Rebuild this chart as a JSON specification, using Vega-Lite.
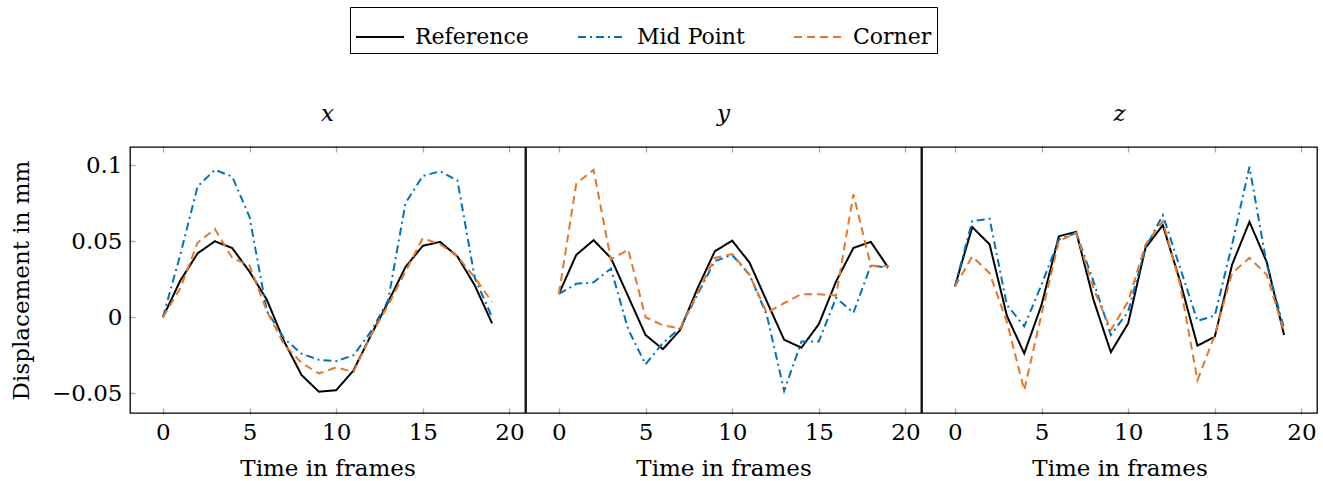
{
  "$schema": "https://vega.github.io/schema/vega-lite/v6.json",
  "padding": {"left": 10, "top": 6, "right": 5, "bottom": 5},
  "datasets": {
    "d": [
      {"c":"x","s":"Reference","f":0,"v":0},{"c":"x","s":"Reference","f":1,"v":0.024},{"c":"x","s":"Reference","f":2,"v":0.042},{"c":"x","s":"Reference","f":3,"v":0.05},{"c":"x","s":"Reference","f":4,"v":0.0455},{"c":"x","s":"Reference","f":5,"v":0.03},{"c":"x","s":"Reference","f":6,"v":0.0115},{"c":"x","s":"Reference","f":7,"v":-0.016},{"c":"x","s":"Reference","f":8,"v":-0.038},{"c":"x","s":"Reference","f":9,"v":-0.049},{"c":"x","s":"Reference","f":10,"v":-0.048},{"c":"x","s":"Reference","f":11,"v":-0.035},{"c":"x","s":"Reference","f":12,"v":-0.012},{"c":"x","s":"Reference","f":13,"v":0.01},{"c":"x","s":"Reference","f":14,"v":0.033},{"c":"x","s":"Reference","f":15,"v":0.047},{"c":"x","s":"Reference","f":16,"v":0.0496},{"c":"x","s":"Reference","f":17,"v":0.04},{"c":"x","s":"Reference","f":18,"v":0.021},{"c":"x","s":"Reference","f":19,"v":-0.004},
      {"c":"x","s":"Mid Point","f":0,"v":0},{"c":"x","s":"Mid Point","f":1,"v":0.041},{"c":"x","s":"Mid Point","f":2,"v":0.086},{"c":"x","s":"Mid Point","f":3,"v":0.097},{"c":"x","s":"Mid Point","f":4,"v":0.0925},{"c":"x","s":"Mid Point","f":5,"v":0.066},{"c":"x","s":"Mid Point","f":6,"v":0.004},{"c":"x","s":"Mid Point","f":7,"v":-0.014},{"c":"x","s":"Mid Point","f":8,"v":-0.024},{"c":"x","s":"Mid Point","f":9,"v":-0.028},{"c":"x","s":"Mid Point","f":10,"v":-0.0289},{"c":"x","s":"Mid Point","f":11,"v":-0.025},{"c":"x","s":"Mid Point","f":12,"v":-0.0095},{"c":"x","s":"Mid Point","f":13,"v":0.011},{"c":"x","s":"Mid Point","f":14,"v":0.075},{"c":"x","s":"Mid Point","f":15,"v":0.093},{"c":"x","s":"Mid Point","f":16,"v":0.096},{"c":"x","s":"Mid Point","f":17,"v":0.09},{"c":"x","s":"Mid Point","f":18,"v":0.026},{"c":"x","s":"Mid Point","f":19,"v":0.0},
      {"c":"x","s":"Corner","f":0,"v":0},{"c":"x","s":"Corner","f":1,"v":0.019},{"c":"x","s":"Corner","f":2,"v":0.049},{"c":"x","s":"Corner","f":3,"v":0.058},{"c":"x","s":"Corner","f":4,"v":0.039},{"c":"x","s":"Corner","f":5,"v":0.034},{"c":"x","s":"Corner","f":6,"v":0.004},{"c":"x","s":"Corner","f":7,"v":-0.018},{"c":"x","s":"Corner","f":8,"v":-0.03},{"c":"x","s":"Corner","f":9,"v":-0.037},{"c":"x","s":"Corner","f":10,"v":-0.033},{"c":"x","s":"Corner","f":11,"v":-0.036},{"c":"x","s":"Corner","f":12,"v":-0.012},{"c":"x","s":"Corner","f":13,"v":0.008},{"c":"x","s":"Corner","f":14,"v":0.03},{"c":"x","s":"Corner","f":15,"v":0.052},{"c":"x","s":"Corner","f":16,"v":0.048},{"c":"x","s":"Corner","f":17,"v":0.04},{"c":"x","s":"Corner","f":18,"v":0.026},{"c":"x","s":"Corner","f":19,"v":0.01},
      {"c":"y","s":"Reference","f":0,"v":0.0154},{"c":"y","s":"Reference","f":1,"v":0.041},{"c":"y","s":"Reference","f":2,"v":0.0507},{"c":"y","s":"Reference","f":3,"v":0.039},{"c":"y","s":"Reference","f":4,"v":0.0137},{"c":"y","s":"Reference","f":5,"v":-0.0117},{"c":"y","s":"Reference","f":6,"v":-0.021},{"c":"y","s":"Reference","f":7,"v":-0.0084},{"c":"y","s":"Reference","f":8,"v":0.019},{"c":"y","s":"Reference","f":9,"v":0.0434},{"c":"y","s":"Reference","f":10,"v":0.0504},{"c":"y","s":"Reference","f":11,"v":0.036},{"c":"y","s":"Reference","f":12,"v":0.0104},{"c":"y","s":"Reference","f":13,"v":-0.0148},{"c":"y","s":"Reference","f":14,"v":-0.02},{"c":"y","s":"Reference","f":15,"v":-0.0046},{"c":"y","s":"Reference","f":16,"v":0.0236},{"c":"y","s":"Reference","f":17,"v":0.0456},{"c":"y","s":"Reference","f":18,"v":0.0496},{"c":"y","s":"Reference","f":19,"v":0.0328},
      {"c":"y","s":"Mid Point","f":0,"v":0.0154},{"c":"y","s":"Mid Point","f":1,"v":0.022},{"c":"y","s":"Mid Point","f":2,"v":0.023},{"c":"y","s":"Mid Point","f":3,"v":0.032},{"c":"y","s":"Mid Point","f":4,"v":-0.008},{"c":"y","s":"Mid Point","f":5,"v":-0.031},{"c":"y","s":"Mid Point","f":6,"v":-0.017},{"c":"y","s":"Mid Point","f":7,"v":-0.007},{"c":"y","s":"Mid Point","f":8,"v":0.015},{"c":"y","s":"Mid Point","f":9,"v":0.037},{"c":"y","s":"Mid Point","f":10,"v":0.041},{"c":"y","s":"Mid Point","f":11,"v":0.028},{"c":"y","s":"Mid Point","f":12,"v":0.0015},{"c":"y","s":"Mid Point","f":13,"v":-0.0485},{"c":"y","s":"Mid Point","f":14,"v":-0.016},{"c":"y","s":"Mid Point","f":15,"v":-0.016},{"c":"y","s":"Mid Point","f":16,"v":0.0128},{"c":"y","s":"Mid Point","f":17,"v":0.0029},{"c":"y","s":"Mid Point","f":18,"v":0.034},{"c":"y","s":"Mid Point","f":19,"v":0.0326},
      {"c":"y","s":"Corner","f":0,"v":0.0154},{"c":"y","s":"Corner","f":1,"v":0.0879},{"c":"y","s":"Corner","f":2,"v":0.097},{"c":"y","s":"Corner","f":3,"v":0.038},{"c":"y","s":"Corner","f":4,"v":0.0445},{"c":"y","s":"Corner","f":5,"v":0.0},{"c":"y","s":"Corner","f":6,"v":-0.0053},{"c":"y","s":"Corner","f":7,"v":-0.0075},{"c":"y","s":"Corner","f":8,"v":0.016},{"c":"y","s":"Corner","f":9,"v":0.039},{"c":"y","s":"Corner","f":10,"v":0.0416},{"c":"y","s":"Corner","f":11,"v":0.028},{"c":"y","s":"Corner","f":12,"v":0.0029},{"c":"y","s":"Corner","f":13,"v":0.0093},{"c":"y","s":"Corner","f":14,"v":0.0152},{"c":"y","s":"Corner","f":15,"v":0.0152},{"c":"y","s":"Corner","f":16,"v":0.0143},{"c":"y","s":"Corner","f":17,"v":0.081},{"c":"y","s":"Corner","f":18,"v":0.034},{"c":"y","s":"Corner","f":19,"v":0.0335},
      {"c":"z","s":"Reference","f":0,"v":0.0203},{"c":"z","s":"Reference","f":1,"v":0.0593},{"c":"z","s":"Reference","f":2,"v":0.048},{"c":"z","s":"Reference","f":3,"v":0.001},{"c":"z","s":"Reference","f":4,"v":-0.0238},{"c":"z","s":"Reference","f":5,"v":0.0081},{"c":"z","s":"Reference","f":6,"v":0.0533},{"c":"z","s":"Reference","f":7,"v":0.0562},{"c":"z","s":"Reference","f":8,"v":0.0115},{"c":"z","s":"Reference","f":9,"v":-0.023},{"c":"z","s":"Reference","f":10,"v":-0.004},{"c":"z","s":"Reference","f":11,"v":0.0456},{"c":"z","s":"Reference","f":12,"v":0.0606},{"c":"z","s":"Reference","f":13,"v":0.0236},{"c":"z","s":"Reference","f":14,"v":-0.0187},{"c":"z","s":"Reference","f":15,"v":-0.0128},{"c":"z","s":"Reference","f":16,"v":0.0346},{"c":"z","s":"Reference","f":17,"v":0.0628},{"c":"z","s":"Reference","f":18,"v":0.0363},{"c":"z","s":"Reference","f":19,"v":-0.0117},
      {"c":"z","s":"Mid Point","f":0,"v":0.0203},{"c":"z","s":"Mid Point","f":1,"v":0.0632},{"c":"z","s":"Mid Point","f":2,"v":0.0648},{"c":"z","s":"Mid Point","f":3,"v":0.0081},{"c":"z","s":"Mid Point","f":4,"v":-0.006},{"c":"z","s":"Mid Point","f":5,"v":0.0214},{"c":"z","s":"Mid Point","f":6,"v":0.0511},{"c":"z","s":"Mid Point","f":7,"v":0.0555},{"c":"z","s":"Mid Point","f":8,"v":0.0236},{"c":"z","s":"Mid Point","f":9,"v":-0.0117},{"c":"z","s":"Mid Point","f":10,"v":0.0037},{"c":"z","s":"Mid Point","f":11,"v":0.0456},{"c":"z","s":"Mid Point","f":12,"v":0.0672},{"c":"z","s":"Mid Point","f":13,"v":0.0324},{"c":"z","s":"Mid Point","f":14,"v":-0.0024},{"c":"z","s":"Mid Point","f":15,"v":0.0011},{"c":"z","s":"Mid Point","f":16,"v":0.0478},{"c":"z","s":"Mid Point","f":17,"v":0.099},{"c":"z","s":"Mid Point","f":18,"v":0.0346},{"c":"z","s":"Mid Point","f":19,"v":-0.0073},
      {"c":"z","s":"Corner","f":0,"v":0.0203},{"c":"z","s":"Corner","f":1,"v":0.04},{"c":"z","s":"Corner","f":2,"v":0.029},{"c":"z","s":"Corner","f":3,"v":-0.003},{"c":"z","s":"Corner","f":4,"v":-0.048},{"c":"z","s":"Corner","f":5,"v":0.002},{"c":"z","s":"Corner","f":6,"v":0.05},{"c":"z","s":"Corner","f":7,"v":0.0555},{"c":"z","s":"Corner","f":8,"v":0.019},{"c":"z","s":"Corner","f":9,"v":-0.0084},{"c":"z","s":"Corner","f":10,"v":0.0104},{"c":"z","s":"Corner","f":11,"v":0.0478},{"c":"z","s":"Corner","f":12,"v":0.0632},{"c":"z","s":"Corner","f":13,"v":0.0214},{"c":"z","s":"Corner","f":14,"v":-0.0414},{"c":"z","s":"Corner","f":15,"v":-0.0117},{"c":"z","s":"Corner","f":16,"v":0.029},{"c":"z","s":"Corner","f":17,"v":0.039},{"c":"z","s":"Corner","f":18,"v":0.028},{"c":"z","s":"Corner","f":19,"v":-0.0095}
    ]
  },
  "data": {"name": "d"},
  "facet": {
    "column": {
      "field": "c",
      "type": "nominal",
      "sort": ["x", "y", "z"],
      "header": {
        "title": null,
        "labelFont": "DejaVu Serif",
        "labelFontStyle": "italic",
        "labelFontSize": 23,
        "labelColor": "black",
        "labelPadding": 19
      }
    }
  },
  "spacing": -2,
  "spec": {
    "width": 395,
    "height": 266,
    "layer": [
      {
        "mark": {"type": "line", "strokeWidth": 2, "clip": true},
        "encoding": {
          "x": {
            "field": "f",
            "type": "quantitative",
            "scale": {"domain": [-1.9, 20.9], "nice": false, "zero": false},
            "axis": {"orient": "bottom", "title": "Time in frames", "values": [0, 5, 10, 15, 20]}
          },
          "y": {
            "field": "v",
            "type": "quantitative",
            "scale": {"domain": [-0.063, 0.112], "nice": false, "zero": false},
            "axis": {"title": "Displacement in mm", "values": [-0.05, 0, 0.05, 0.1], "format": "~g", "titlePadding": 18, "labelPadding": 13}
          },
          "color": {
            "field": "s",
            "type": "nominal",
            "scale": {"domain": ["Reference", "Mid Point", "Corner"], "range": ["#000000", "#0072BD", "#E5772A"]},
            "legend": {
              "title": null,
              "orient": "none",
              "direction": "horizontal",
              "legendX": 220,
              "legendY": -140
            }
          },
          "strokeDash": {
            "field": "s",
            "type": "nominal",
            "scale": {"domain": ["Reference", "Mid Point", "Corner"], "range": [[1, 0], [8, 4, 2, 4], [8, 5]]},
            "legend": {
              "title": null,
              "orient": "none",
              "direction": "horizontal",
              "legendX": 220,
              "legendY": -140
            }
          },
          "order": {"field": "f", "type": "quantitative"}
        }
      },
      {
        "mark": {"type": "line", "opacity": 0},
        "encoding": {
          "x": {
            "field": "f",
            "type": "quantitative",
            "axis": {"orient": "top", "title": null, "labels": false, "values": [0, 5, 10, 15, 20]}
          },
          "y": {"field": "v", "type": "quantitative"},
          "detail": {"field": "s"}
        }
      }
    ],
    "resolve": {"axis": {"x": "independent"}}
  },
  "config": {
    "font": "DejaVu Serif",
    "view": {"stroke": "black", "strokeWidth": 1.3},
    "axis": {
      "domain": false,
      "grid": false,
      "ticks": true,
      "tickSize": -6,
      "tickColor": "#aaaaaa",
      "tickWidth": 1.3,
      "labelFont": "DejaVu Serif",
      "labelFontSize": 23,
      "labelColor": "black",
      "labelPadding": 13,
      "titleFont": "DejaVu Serif",
      "titleFontSize": 23,
      "titleFontWeight": "normal",
      "titleColor": "black"
    },
    "axisX": {"titlePadding": 13},
    "legend": {
      "labelFont": "DejaVu Serif",
      "labelFontSize": 22,
      "labelColor": "black",
      "symbolType": "stroke",
      "symbolSize": 2300,
      "symbolStrokeWidth": 2,
      "columnPadding": 45,
      "labelOffset": 10,
      "padding": 5,
      "strokeColor": "black",
      "fillColor": "white"
    }
  }
}
